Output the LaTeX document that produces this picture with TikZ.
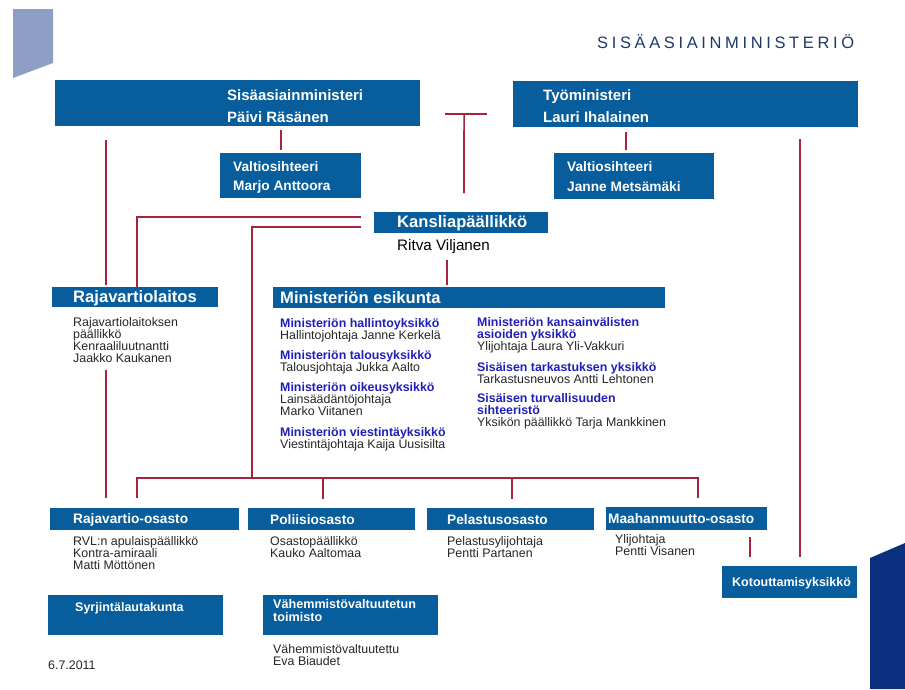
\documentclass[tikz,border=0pt]{standalone}
\usepackage{fontspec}
\setmainfont{Liberation Sans}
\newfontfamily\titlefont[LetterSpace=22]{Liberation Sans}
\usetikzlibrary{calc}
\definecolor{boxblue}{HTML}{085E9C}
\definecolor{linered}{HTML}{A8243E}
\definecolor{headblue}{HTML}{2020B8}
\definecolor{subtext}{HTML}{262626}
\definecolor{decolight}{HTML}{8E9FC6}
\definecolor{decodark}{HTML}{0B2F7F}
\definecolor{titlecol}{HTML}{1F3A6A}
\begin{document}
\begin{tikzpicture}[x=1pt,y=-1pt,
  box/.style={fill=boxblue, draw=none, inner sep=0pt, anchor=north west},
  conn/.style={draw=linered, line width=1.7pt},
  bt/.style={text=white, inner sep=0pt, anchor=west, font=\bfseries\fontsize{15}{16}\selectfont},
  btbig/.style={bt, font=\bfseries\fontsize{16.6}{18}\selectfont},
  btmid/.style={bt, font=\bfseries\fontsize{13.7}{15}\selectfont},
  btsmall/.style={bt, font=\bfseries\fontsize{12.5}{13.5}\selectfont},
  sub/.style={anchor=north west, inner sep=0pt, align=left, text=subtext, font=\fontsize{12.4}{12}\selectfont}
]
\useasboundingbox (0,0) rectangle (905,689);
\fill[white] (0,0) rectangle (905,689);
% decorations
\fill[decolight] (13,9) -- (53,9) -- (53,63) -- (13,78) -- cycle;
\fill[decodark] (870,558) -- (905,543) -- (905,689) -- (870,689) -- cycle;
\node[anchor=west, inner sep=0pt, text=titlecol, font=\titlefont\fontsize{16.5}{18}\selectfont] (title) at (597,42) {SISÄASIAINMINISTERIÖ};

% boxes
\node[box, minimum width=365pt, minimum height=46pt] (sm) at (55,80) {};
\node[box, minimum width=345pt, minimum height=46pt] (tm) at (513,81) {};
\node[box, minimum width=141pt, minimum height=45pt] (vs1) at (220,153) {};
\node[box, minimum width=160pt, minimum height=46pt] (vs2) at (554,153) {};
\node[box, minimum width=174pt, minimum height=21pt] (kp) at (374,212) {};
\node[box, minimum width=166pt, minimum height=20pt] (rv) at (52,287) {};
\node[box, minimum width=392pt, minimum height=21pt] (me) at (273,287) {};
\node[box, minimum width=189pt, minimum height=22pt] (ro) at (50,508) {};
\node[box, minimum width=167pt, minimum height=22pt] (po) at (248,508) {};
\node[box, minimum width=167pt, minimum height=22pt] (pe) at (427,508) {};
\node[box, minimum width=161pt, minimum height=23pt] (ma) at (606,507) {};
\node[box, minimum width=135pt, minimum height=32pt] (ko) at (722,566) {};
\node[box, minimum width=175pt, minimum height=40pt] (sy) at (48,595) {};
\node[box, minimum width=175pt, minimum height=40pt] (vv) at (263,595) {};

% box texts
\node[bt] (smt1) at (227,95) {Sisäasiainministeri};
\node[bt] (smt2) at (227,117) {Päivi Räsänen};
\node[bt] (tmt1) at (543,97) {Työministeri};
\node[bt] (tmt2) at (543,117) {Lauri Ihalainen};
\node[btmid] (vs1t1) at (233,167) {Valtiosihteeri};
\node[btmid] (vs1t2) at (233,187) {Marjo Anttoora};
\node[btmid] (vs2t1) at (567,167) {Valtiosihteeri};
\node[btmid] (vs2t2) at (567,187) {Janne Metsämäki};
\node[btbig] (kpt) at (397,223) {Kansliapäällikkö};
\node[anchor=west, inner sep=0pt, font=\fontsize{15.2}{16}\selectfont] (kpn) at (397,247) {Ritva Viljanen};
\node[btbig] (rvt) at (73,298) {Rajavartiolaitos};
\node[btbig] (met) at (280,298) {Ministeriön esikunta};
\node[btmid] (rot) at (73,520) {Rajavartio-osasto};
\node[btmid] (pot) at (270,520) {Poliisiosasto};
\node[btmid] (pet) at (447,520) {Pelastusosasto};
\node[btmid] (mat) at (608,519) {Maahanmuutto-osasto};
\node[btsmall] (kot) at (732,583) {Kotouttamisyksikkö};
\node[btsmall] (syt) at (75,608) {Syrjintälautakunta};
\node[btsmall, anchor=north west, align=left, font=\bfseries\fontsize{12.6}{13}\selectfont] (vvt) at (273,599) {Vähemmistövaltuutetun\\toimisto};

% sub texts
\node[sub] (rvs) at (73,317) {Rajavartiolaitoksen\\päällikkö\\Kenraaliluutnantti\\Jaakko Kaukanen};
\node[sub] (me1) at (280,318) {\textcolor{headblue}{\bfseries Ministeriön hallintoyksikkö}\\Hallintojohtaja Janne Kerkelä};
\node[sub] (me2) at (280,350) {\textcolor{headblue}{\bfseries Ministeriön talousyksikkö}\\Talousjohtaja Jukka Aalto};
\node[sub] (me3) at (280,382) {\textcolor{headblue}{\bfseries Ministeriön oikeusyksikkö}\\Lainsäädäntöjohtaja\\Marko Viitanen};
\node[sub] (me4) at (280,427) {\textcolor{headblue}{\bfseries Ministeriön viestintäyksikkö}\\Viestintäjohtaja Kaija Uusisilta};
\node[sub] (me5) at (477,317) {\textcolor{headblue}{\bfseries Ministeriön kansainvälisten}\\\textcolor{headblue}{\bfseries asioiden yksikkö}\\Ylijohtaja Laura Yli-Vakkuri};
\node[sub] (me6) at (477,362) {\textcolor{headblue}{\bfseries Sisäisen tarkastuksen yksikkö}\\Tarkastusneuvos Antti Lehtonen};
\node[sub] (me7) at (477,393) {\textcolor{headblue}{\bfseries Sisäisen turvallisuuden}\\\textcolor{headblue}{\bfseries sihteeristö}\\Yksikön päällikkö Tarja Mankkinen};
\node[sub] (ros) at (73,536) {RVL:n apulaispäällikkö\\Kontra-amiraali\\Matti Möttönen};
\node[sub] (pos) at (270,536) {Osastopäällikkö\\Kauko Aaltomaa};
\node[sub] (pes) at (447,536) {Pelastusylijohtaja\\Pentti Partanen};
\node[sub] (mas) at (615,534) {Ylijohtaja\\Pentti Visanen};
\node[sub] (vvs) at (273,644) {Vähemmistövaltuutettu\\Eva Biaudet};
\node[sub] (date) at (48,661) {6.7.2011};

% connectors
\draw[conn] ($(sm.south west)+(226,4)$) -- ($(vs1.north west)+(61,-3)$);
\draw[conn] ($(tm.south west)+(113,5)$) -- ($(vs2.north west)+(72,-3)$);
\coordinate (tl) at ($(sm.south east)+(25,-12.5)$);
\coordinate (tr) at ($(tm.south west)+(-26,-13.5)$);
\draw[conn] (tl) -- (tr);
\draw[conn] ($(tl)!0.45!(tr)$) -- ($(kp.north west)+(90,-19)$);
\draw[conn] ($(sm.south west)+(51,14)$) -- ($(rv.north west)+(54,-2)$);
\draw[conn] ($(rv.south west)+(54,63)$) -- ($(ro.north west)+(56,-10)$);
\draw[conn] ($(kp.west)+(-13,-5.5)$) -| ($(rv.north west)+(85,0)$);
\draw[conn] ($(kp.west)+(-13,4.5)$) -| ($(po.north west)+(4,-30)$);
\draw[conn] ($(kp.south west)+(73,27)$) -- ($(me.north west)+(174,-2)$);
\draw[conn] ($(ro.north west)+(87,-10)$) |- ($(ma.north west)+(92,-29)$) -- ($(ma.north west)+(92,-9)$);
\draw[conn] ($(po.north west)+(75,-30)$) -- ($(po.north west)+(75,-9)$);
\draw[conn] ($(pe.north west)+(85,-30)$) -- ($(pe.north west)+(85,-9)$);
\draw[conn] ($(tm.south west)+(287,12)$) -- ($(ko.north west)+(78,-9)$);
\draw[conn] ($(ma.south west)+(144,7)$) -- ($(ko.north west)+(28,-9)$);
\end{tikzpicture}
\end{document}
